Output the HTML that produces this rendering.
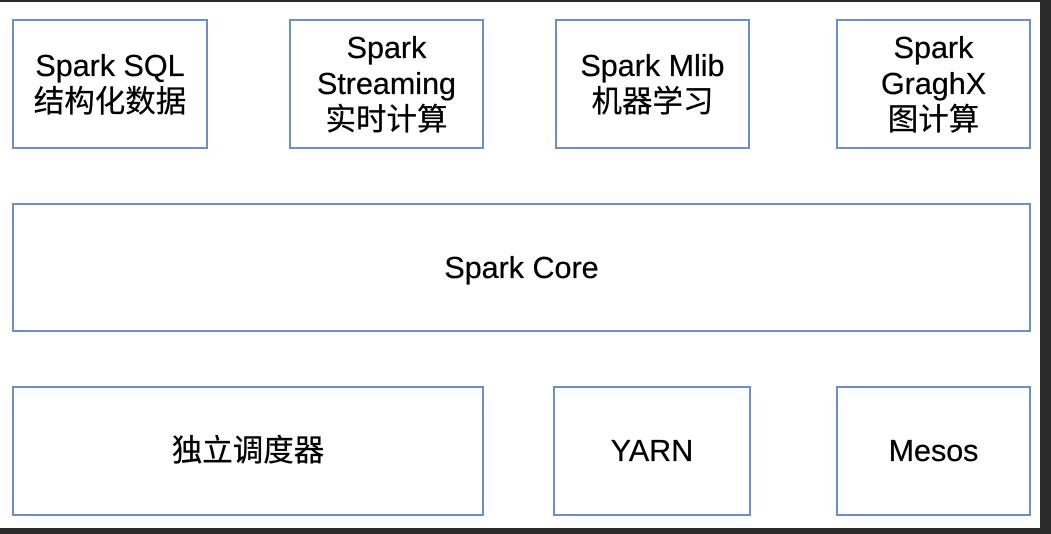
<!DOCTYPE html>
<html><head><meta charset="utf-8"><style>
html,body{margin:0;padding:0}
body{width:1051px;height:534px;background:#2b2b2b;position:relative;overflow:hidden;font-family:"Liberation Sans","Noto Sans CJK SC",sans-serif}
.page{position:absolute;left:0;top:2px;width:1040px;height:526px;background:#fff}
.b{position:absolute;box-sizing:border-box;border:2px solid #6d8fc7;display:flex;align-items:center;justify-content:center;text-align:center;font-size:30.5px;line-height:36px;color:#000;-webkit-text-stroke:0.3px #000}
</style></head><body>
<div class="page"></div>
<div class="b" style="left:12px;top:19px;width:196px;height:130px">Spark SQL<br>结构化数据</div>
<div class="b" style="left:289px;top:19px;width:195px;height:130px">Spark<br>Streaming<br>实时计算</div>
<div class="b" style="left:555px;top:19px;width:195px;height:130px">Spark Mlib<br>机器学习</div>
<div class="b" style="left:836px;top:19px;width:195px;height:130px">Spark<br>GraghX<br>图计算</div>
<div class="b" style="left:12px;top:203px;width:1019px;height:129px">Spark Core</div>
<div class="b" style="left:12px;top:386px;width:472px;height:130px">独立调度器</div>
<div class="b" style="left:553px;top:386px;width:198px;height:130px">YARN</div>
<div class="b" style="left:836px;top:386px;width:195px;height:130px">Mesos</div>
</body></html>
